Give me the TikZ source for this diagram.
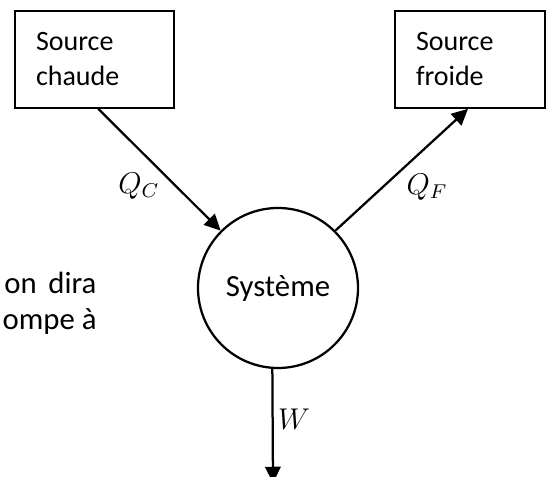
\documentclass[tikz,border=0pt]{standalone}
\usepackage{fontspec}
\setmainfont{Carlito}
\usetikzlibrary{arrows.meta}
\begin{document}
\begin{tikzpicture}[x=0.4pt,y=-0.4pt,
  every node/.style={font=\fontsize{11.2pt}{14pt}\selectfont},
  srcbox/.style={draw, line width=0.65pt, rectangle, align=left,
    inner xsep=8.4pt, inner ysep=0pt, minimum height=38.8pt},
  sysnode/.style={draw, circle, line width=0.9pt, minimum size=64pt, inner sep=0pt,
    font=\fontsize{12.3pt}{14pt}\selectfont},
  flow/.style={line width=0.9pt, -{Triangle[length=6.5pt,width=6.2pt]}},
  lbl/.style={inner sep=0pt, font=\fontsize{11.8pt}{14pt}\selectfont},
  sidetext/.style={anchor=base east, inner sep=0pt, font=\fontsize{12.3pt}{14pt}\selectfont}
]
\useasboundingbox (0,0) rectangle (546,477);

% heat reservoirs
\node[srcbox, text width=46.8pt] (chaude) at (94.5,59.5) {Source\\chaude};
\node[srcbox, text width=43.2pt] (froide) at (470,59.5) {Source\\froide};

% the system
\node[sysnode] (sys) at (278,288) {Système};

% exchanges
\coordinate (wend) at (273,483);
\draw[flow] ([xshift=1.5pt]chaude.south) -- (sys.135);
\draw[flow] (sys.45) -- ([xshift=-0.8pt]froide.south);
\draw[flow] (sys.266) -- (wend);

\node[lbl] (qc) at (139,186) {$Q_C$};
\node[lbl] (qf) at (427,187) {$Q_F$};
\node[lbl] (w) at (294,419) {$W$};

% surrounding text
\node[sidetext] (t1) at (97,294) {on\hspace{0.38em}dira};
\node[sidetext] (t2) at (97,330) {ompe à};
\end{tikzpicture}
\end{document}
